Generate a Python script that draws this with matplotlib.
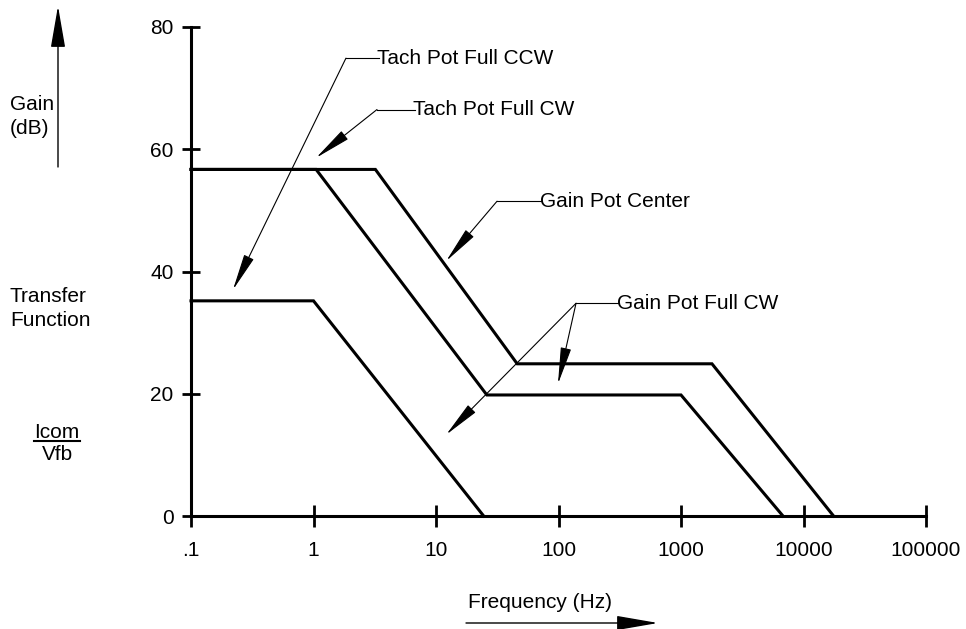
import matplotlib
matplotlib.use('Agg')
import matplotlib.pyplot as plt
from matplotlib.lines import Line2D
from matplotlib.ticker import FixedLocator, FixedFormatter, NullLocator

plt.rcParams['font.family'] = ['Liberation Sans', 'DejaVu Sans']
plt.rcParams['font.size'] = 15

# breakpoints (Hz, dB)
freq_ccw = [0.1, 1.0, 24.5]
gain_ccw = [35.2, 35.2, 0.0]

freq_cw = [0.1, 1.05, 26, 1000, 6800]
gain_cw = [56.7, 56.7, 19.8, 19.8, 0.0]

freq_center = [0.1, 3.2, 46, 1790, 17600]
gain_center = [56.7, 56.7, 24.9, 24.9, 0.0]

xticks = [0.1, 1, 10, 100, 1000, 10000, 100000]
xticklabels = ['.1', '1', '10', '100', '1000', '10000', '100000']
yticks = [0, 20, 40, 60, 80]

# callouts: label, text anchor, elbow, arrow tips (all in Hz / dB)
callouts = [
    ('Tach Pot Full CCW', (3.3, 74.9), (1.84, 74.9), [(0.22, 37.0)]),
    ('Tach Pot Full CW', (6.5, 66.5), (3.3, 66.5), [(1.05, 58.6)]),
    ('Gain Pot Center', (70, 51.5), (31.5, 51.5), [(12.1, 41.7)]),
    ('Gain Pot Full CW', (300, 34.8), (139, 34.8), [(99, 21.6), (12.1, 13.3)]),
]

W, H = 966, 629
fig = plt.figure(figsize=(W / 100, H / 100), dpi=100)
ax = fig.add_axes([191 / W, 1 - 516 / H, (926 - 191) / W, (516 - 27) / H])

for f, g in [(freq_ccw, gain_ccw), (freq_cw, gain_cw), (freq_center, gain_center)]:
    ax.plot(f, g, color='black', lw=2.2, solid_joinstyle='miter', clip_on=False)

ax.set_xscale('log')
ax.set_xlim(0.1, 100000)
ax.set_ylim(0, 80)
ax.xaxis.set_major_locator(FixedLocator(xticks))
ax.xaxis.set_major_formatter(FixedFormatter(xticklabels))
ax.xaxis.set_minor_locator(NullLocator())
ax.set_yticks(yticks)
ax.tick_params(axis='x', direction='inout', length=16, width=2, pad=10, labelsize=15)
ax.tick_params(axis='y', direction='inout', length=13, width=2, pad=6, labelsize=15)
for s in ['top', 'right']:
    ax.spines[s].set_visible(False)
for s in ['left', 'bottom']:
    ax.spines[s].set_linewidth(2.2)

for label, txt, elbow, tips in callouts:
    ax.plot([elbow[0], txt[0] * 1.03], [elbow[1], elbow[1]], color='black', lw=0.8, clip_on=False)
    ax.text(txt[0], txt[1], label, ha='left', va='center', fontsize=15)
    for tip in tips:
        ax.annotate('', xy=tip, xytext=elbow,
                    arrowprops=dict(arrowstyle='-|>,head_length=2.3,head_width=0.33',
                                    mutation_scale=10, lw=0.8, color='black',
                                    shrinkA=0, shrinkB=0))

# left side labels
fig.text(10 / W, 1 - 105 / H, 'Gain', ha='left', va='center')
fig.text(10 / W, 1 - 128 / H, '(dB)', ha='left', va='center')
fig.text(10 / W, 1 - 297 / H, 'Transfer', ha='left', va='center')
fig.text(10 / W, 1 - 321 / H, 'Function', ha='left', va='center')
fig.text(57 / W, 1 - 432 / H, 'Icom', ha='center', va='center')
fig.add_artist(Line2D([34 / W, 80 / W], [1 - 441 / H, 1 - 441 / H], color='black', lw=1.5))
fig.text(57 / W, 1 - 454 / H, 'Vfb', ha='center', va='center')
fig.text(468 / W, 1 - 603 / H, 'Frequency (Hz)', ha='left', va='center')

arrow_kw = dict(arrowstyle='-|>,head_length=2.6,head_width=0.45', mutation_scale=10,
                lw=1.0, color='black', shrinkA=0, shrinkB=0)
fig.add_artist(matplotlib.patches.FancyArrowPatch((58 / W, 1 - 167 / H), (58 / W, 1 - 6 / H),
                                                  transform=fig.transFigure, **arrow_kw))
fig.add_artist(matplotlib.patches.FancyArrowPatch((466 / W, 1 - 623 / H), (658 / W, 1 - 623 / H),
                                                  transform=fig.transFigure, **arrow_kw))

fig.savefig('out.png', dpi=100)
